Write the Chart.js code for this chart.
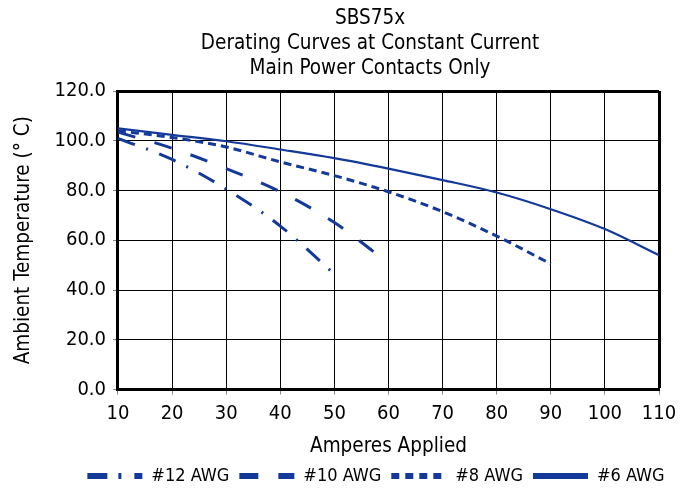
<!DOCTYPE html>
<html lang="en">

<head>
    <meta charset="UTF-8">
    <title>SBS75x Derating Curves</title>
    <script src="https://cdn.jsdelivr.net/npm/chart.js@4"></script>
    <style>
        html, body {
            margin: 0;
            padding: 0;
            background: #fff;
        }

        #wrap {
            width: 687px;
            height: 491px;
        }
    </style>
</head>

<body>
    <div id="wrap"><canvas id="derating"></canvas></div>
    <script>
        // values
        const amps12 = [10, 20, 30, 40, 50];
        const temp12 = [101, 92.5, 80.6, 65.7, 46.4];
        const amps10 = [10, 20, 30, 40, 50, 60];
        const temp10 = [103.5, 97, 88.8, 79.5, 67.1, 50.8];
        const amps8 = [10, 20, 30, 40, 50, 60, 70, 80, 90];
        const temp8 = [104, 101.3, 97.5, 91.5, 86, 79.5, 71.5, 61.7, 50.5];
        const amps6 = [10, 20, 30, 40, 50, 60, 70, 80, 90, 100, 110];
        const temp6 = [105, 102.4, 99.8, 96.5, 93, 88.8, 84.2, 79.2, 72.5, 64.5, 54];

        const seriesNames = ['#12 AWG', '#10 AWG', '#8 AWG', '#6 AWG'];
        const titleLines = ['SBS75x', 'Derating Curves at Constant Current', 'Main Power Contacts Only'];

        const blue = '#13399a';
        const font = "'DejaVu Sans Condensed', 'Liberation Sans', sans-serif";

        function pts(xs, ys) {
            return xs.map((x, i) => ({ x: x, y: ys[i] }));
        }

        // dash patterns: on the plot, and the bigger ones used in the legend
        const lineDash = [[18, 12, 2, 12], [18, 20], [8, 5], []];
        const legendDash = [[20, 11, 3, 13], [19, 20], [8, 6], []];
        const widths = [3, 3, 3, 2.2];

        const datasets = [[amps12, temp12], [amps10, temp10], [amps8, temp8], [amps6, temp6]].map((s, i) => ({
            label: seriesNames[i],
            data: pts(s[0], s[1]),
            borderColor: blue,
            backgroundColor: blue,
            borderWidth: widths[i],
            borderDash: lineDash[i],
            pointRadius: 0,
            cubicInterpolationMode: 'monotone',
            fill: false
        }));

        // the original has title and legend sitting a bit right of the canvas middle
        const nudge = {
            id: 'nudge',
            afterLayout(chart) {
                chart.titleBlock.left += 34;
                chart.titleBlock.right += 34;
                chart.legend.left += 40;
                chart.legend.right += 40;
            }
        };

        new Chart(document.getElementById('derating'), {
            type: 'line',
            data: { datasets: datasets },
            plugins: [nudge],
            options: {
                responsive: true,
                maintainAspectRatio: false,
                animation: false,
                layout: { padding: { left: 13, right: 28, top: 4, bottom: -4 } },
                plugins: {
                    title: {
                        display: true,
                        text: titleLines,
                        color: '#000',
                        font: { family: font, size: 20.5, weight: 'normal', lineHeight: 1.22 },
                        padding: { top: 2, bottom: 10 }
                    },
                    legend: {
                        position: 'bottom',
                        labels: {
                            color: '#000',
                            font: { family: font, size: 18 },
                            usePointStyle: true,
                            pointStyle: 'line',
                            pointStyleWidth: 55,
                            padding: 10,
                            generateLabels(chart) {
                                return chart.data.datasets.map((ds, i) => ({
                                    text: ds.label,
                                    fillStyle: blue,
                                    strokeStyle: blue,
                                    lineWidth: 6,
                                    lineDash: legendDash[i],
                                    lineCap: 'butt',
                                    pointStyle: 'line',
                                    fontColor: '#000',
                                    datasetIndex: i
                                }));
                            }
                        }
                    },
                    tooltip: { enabled: false }
                },
                scales: {
                    x: {
                        type: 'linear',
                        min: 10,
                        max: 110,
                        ticks: {
                            stepSize: 10,
                            color: '#000',
                            padding: 9,
                            font: { family: font, size: 20, lineHeight: 1 }
                        },
                        grid: {
                            color: '#000',
                            lineWidth: (c) => (c.tick && c.tick.value === 110 ? 3 : 1),
                            tickColor: '#888',
                            tickLength: 5,
                            tickWidth: 1
                        },
                        border: { color: '#000', width: 3 },
                        title: {
                            display: true,
                            text: 'Amperes Applied',
                            color: '#000',
                            font: { family: font, size: 20.5, lineHeight: 1 },
                            padding: { top: 4, bottom: 0 }
                        }
                    },
                    y: {
                        min: 0,
                        max: 120,
                        ticks: {
                            stepSize: 20,
                            color: '#000',
                            padding: 7,
                            font: { family: font, size: 20 },
                            callback: (v) => v.toFixed(1)
                        },
                        grid: {
                            color: '#000',
                            lineWidth: (c) => (c.tick && c.tick.value === 120 ? 3 : 1),
                            tickColor: '#888',
                            tickLength: 5,
                            tickWidth: 1
                        },
                        border: { color: '#000', width: 3 },
                        title: {
                            display: true,
                            text: 'Ambient Temperature (° C)',
                            color: '#000',
                            font: { family: font, size: 20.5, lineHeight: 1 },
                            padding: { top: 0, bottom: 14 }
                        }
                    }
                }
            }
        });
    </script>
</body>

</html>
